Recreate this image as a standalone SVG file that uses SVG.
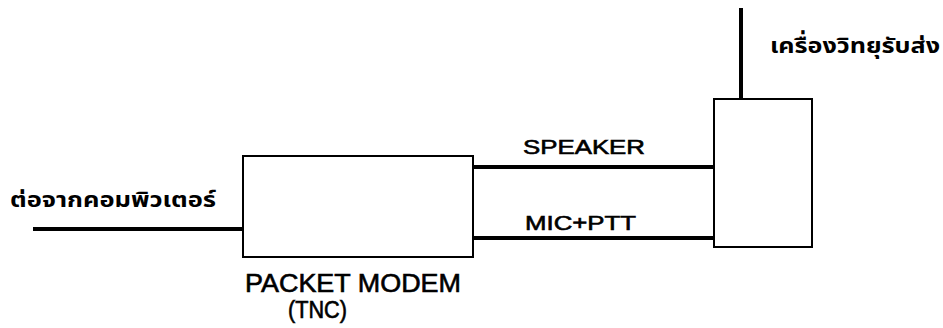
<svg xmlns="http://www.w3.org/2000/svg" width="943" height="328" viewBox="0 0 943 328">
<style>
.box{fill:#fff;stroke:#000;stroke-width:2}
.wire{stroke:#000;stroke-width:4;fill:none}
.lbl{font-family:"Liberation Sans",Arial,sans-serif;fill:#000;stroke:#000;stroke-width:0.6}
.th{font-family:"Noto Sans Thai","Loma","Garuda","Tlwg Typo","Noto Sans",sans-serif;font-weight:bold;fill:#000}
</style>
<rect width="943" height="328" fill="#fff"/>
<g id="connectors">
<line class="wire" x1="33" y1="229" x2="243" y2="229"/>
<line class="wire" x1="473" y1="167" x2="714" y2="167"/>
<line class="wire" x1="473" y1="238" x2="714" y2="238"/>
<line class="wire" x1="741" y1="8" x2="741" y2="99"/>
</g>
<g id="tnc">
<rect class="box" x="243" y="156" width="230" height="101"/>
<text class="lbl" x="245" y="292" font-size="25" textLength="216" lengthAdjust="spacingAndGlyphs">PACKET MODEM</text>
<text class="lbl" x="288" y="318" font-size="23" textLength="59" lengthAdjust="spacingAndGlyphs">(TNC)</text>
</g>
<g id="radio">
<rect class="box" x="714" y="99" width="98" height="148"/>
<text class="th" x="770" y="53" font-size="22" textLength="170" lengthAdjust="spacingAndGlyphs">เครื่องวิทยุรับส่ง</text>
</g>
<g id="computer">
<text class="th" x="10" y="207" font-size="22" textLength="206" lengthAdjust="spacingAndGlyphs">ต่อจากคอมพิวเตอร์</text>
</g>
<g id="labels">
<text class="lbl" x="523" y="154" font-size="20" textLength="122" lengthAdjust="spacingAndGlyphs">SPEAKER</text>
<text class="lbl" x="525" y="230" font-size="20" textLength="111" lengthAdjust="spacingAndGlyphs">MIC+PTT</text>
</g>
</svg>
